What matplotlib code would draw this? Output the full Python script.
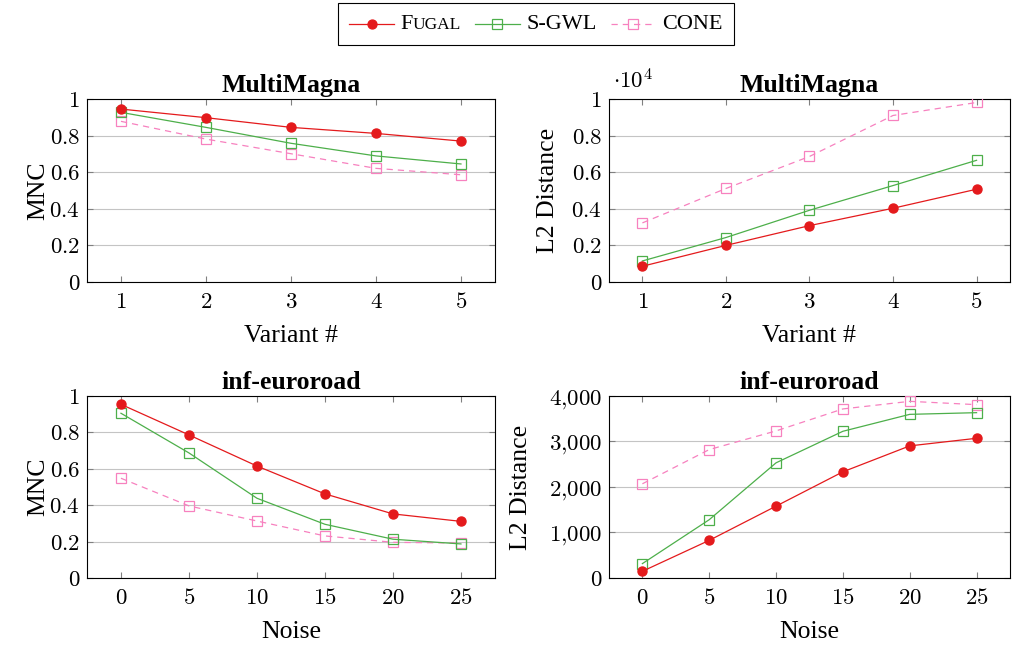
import matplotlib

matplotlib.use("Agg")
import matplotlib.pyplot as plt
from matplotlib.lines import Line2D
from matplotlib.offsetbox import AnchoredOffsetbox, DrawingArea, HPacker, TextArea
from matplotlib.ticker import FuncFormatter

# --- data ---
VARIANTS = [1, 2, 3, 4, 5]
NOISE = [0, 5, 10, 15, 20, 25]

MM_MNC_FUGAL = [0.945, 0.898, 0.845, 0.812, 0.770]
MM_MNC_SGWL = [0.927, 0.845, 0.758, 0.689, 0.645]
MM_MNC_CONE = [0.878, 0.781, 0.701, 0.621, 0.586]

MM_L2_FUGAL = [860, 2000, 3080, 4030, 5070]
MM_L2_SGWL = [1150, 2430, 3920, 5270, 6650]
MM_L2_CONE = [3230, 5110, 6860, 9100, 9810]

ER_MNC_FUGAL = [0.954, 0.786, 0.615, 0.462, 0.352, 0.311]
ER_MNC_SGWL = [0.905, 0.687, 0.438, 0.295, 0.213, 0.187]
ER_MNC_CONE = [0.548, 0.396, 0.313, 0.231, 0.196, 0.192]

ER_L2_FUGAL = [147, 827, 1579, 2333, 2903, 3070]
ER_L2_SGWL = [316, 1281, 2531, 3224, 3596, 3633]
ER_L2_CONE = [2070, 2822, 3232, 3715, 3882, 3809]

RED = "#e41a1c"
GREEN = "#4daf4a"
PINK = "#f781bf"
SERIF = ["Liberation Serif", "DejaVu Serif"]
TICK_FS = 16.5
LABEL_FS = 18.5
TITLE_FS = 18.5
LEG_FS = 16

plt.rcParams.update(
    {
        "font.family": SERIF,
        "font.size": LABEL_FS,
        "mathtext.fontset": "cm",
        "axes.linewidth": 0.8,
        "xtick.direction": "in",
        "ytick.direction": "in",
        "xtick.color": "#808080",
        "ytick.color": "#808080",
        "xtick.labelcolor": "black",
        "ytick.labelcolor": "black",
        "xtick.major.size": 4,
        "ytick.major.size": 4,
    }
)

STYLES = {
    "FUGAL": dict(color=RED, marker="o", ms=6.5, lw=0.9, mfc=RED, mec=RED, ls="-"),
    "S-GWL": dict(color=GREEN, marker="s", ms=6.5, lw=0.9, mfc="none", mew=0.9, ls="-"),
    "CONE": dict(color=PINK, marker="s", ms=6.5, lw=0.9, mfc="none", mew=0.9, ls=(0, (5, 4))),
}


def style_axes(ax, xticks, xlim, ylim, yticks):
    ax.set_xlim(*xlim)
    ax.set_ylim(*ylim)
    ax.set_xticks(xticks)
    ax.set_yticks(yticks)
    ax.tick_params(top=True, right=True, labelsize=TICK_FS)
    ax.tick_params(axis="x", pad=7)
    ax.tick_params(axis="y", pad=5)
    ax.xaxis.set_major_formatter(FuncFormatter(lambda v, p: f"${v:g}$"))
    ax.yaxis.grid(True, color="#c4c4c4", lw=0.8)
    ax.set_axisbelow(True)


def plot_three(ax, x, fugal, sgwl, cone, scale=1.0):
    ax.plot(x, [v / scale for v in cone], **STYLES["CONE"], zorder=3)
    ax.plot(x, [v / scale for v in sgwl], **STYLES["S-GWL"], zorder=4)
    ax.plot(x, [v / scale for v in fugal], **STYLES["FUGAL"], zorder=5)


dec_fmt = FuncFormatter(lambda v, p: f"${v:g}$")
comma_fmt = FuncFormatter(lambda v, p: "$" + f"{int(round(v)):,}".replace(",", "{,}") + "$")

fig = plt.figure(figsize=(10.17, 6.45), dpi=100)
ax_tl = fig.add_axes([0.0855, 0.5628, 0.4012, 0.2837])
ax_tr = fig.add_axes([0.5988, 0.5628, 0.3943, 0.2837])
ax_bl = fig.add_axes([0.0855, 0.1039, 0.4012, 0.2822])
ax_br = fig.add_axes([0.5988, 0.1039, 0.3943, 0.2822])

mnc_ticks = [0, 0.2, 0.4, 0.6, 0.8, 1.0]

plot_three(ax_tl, VARIANTS, MM_MNC_FUGAL, MM_MNC_SGWL, MM_MNC_CONE)
style_axes(ax_tl, VARIANTS, (0.6, 5.4), (0, 1), mnc_ticks)
ax_tl.yaxis.set_major_formatter(dec_fmt)
ax_tl.set_title("MultiMagna", fontweight="bold", fontsize=TITLE_FS, pad=5)
ax_tl.set_ylabel("MNC", labelpad=0)
ax_tl.set_xlabel("Variant #", labelpad=9)

plot_three(ax_tr, VARIANTS, MM_L2_FUGAL, MM_L2_SGWL, MM_L2_CONE, scale=1e4)
style_axes(ax_tr, VARIANTS, (0.6, 5.4), (0, 1), mnc_ticks)
ax_tr.yaxis.set_major_formatter(dec_fmt)
ax_tr.set_title("MultiMagna", fontweight="bold", fontsize=TITLE_FS, pad=5)
ax_tr.set_ylabel("L2 Distance", labelpad=9)
ax_tr.set_xlabel("Variant #", labelpad=9)
ax_tr.text(0.01, 1.03, r"$\cdot 10^{4}$", transform=ax_tr.transAxes, fontsize=TICK_FS,
           ha="left", va="bottom")

plot_three(ax_bl, NOISE, ER_MNC_FUGAL, ER_MNC_SGWL, ER_MNC_CONE)
style_axes(ax_bl, NOISE, (-2.5, 27.5), (0, 1), mnc_ticks)
ax_bl.yaxis.set_major_formatter(dec_fmt)
ax_bl.set_title("inf-euroroad", fontweight="bold", fontsize=TITLE_FS, pad=5)
ax_bl.set_ylabel("MNC", labelpad=0)
ax_bl.set_xlabel("Noise", labelpad=9)

plot_three(ax_br, NOISE, ER_L2_FUGAL, ER_L2_SGWL, ER_L2_CONE)
style_axes(ax_br, NOISE, (-2.5, 27.5), (0, 4000), [0, 1000, 2000, 3000, 4000])
ax_br.yaxis.set_major_formatter(comma_fmt)
ax_br.set_title("inf-euroroad", fontweight="bold", fontsize=TITLE_FS, pad=5)
ax_br.set_ylabel("L2 Distance", labelpad=12)
ax_br.set_xlabel("Noise", labelpad=9)


# legend with a small-caps style FUGAL label
def handle(key):
    da = DrawingArea(32, 10, 0, 0)
    st = dict(STYLES[key])
    marker = st.pop("marker")
    ms = st.pop("ms")
    mfc = st.pop("mfc")
    mec = st.pop("mec", st["color"])
    mew = st.pop("mew", 0.9)
    da.add_artist(Line2D([0, 32], [5, 5], **st))
    da.add_artist(Line2D([16], [5], marker=marker, ms=ms, mfc=mfc, mec=mec, mew=mew,
                         ls="none"))
    return da


def label(parts):
    areas = [TextArea(t, textprops=dict(fontsize=s, family=SERIF)) for t, s in parts]
    return HPacker(children=areas, align="baseline", pad=0, sep=0)


entries = [
    ("FUGAL", [("F", LEG_FS), ("UGAL", LEG_FS - 3.5)]),
    ("S-GWL", [("S-GWL", LEG_FS)]),
    ("CONE", [("CONE", LEG_FS)]),
]
items = []
for key, parts in entries:
    items.append(HPacker(children=[handle(key), label(parts)], align="center", pad=0, sep=5))
box = HPacker(children=items, align="center", pad=0, sep=10)
leg = AnchoredOffsetbox(loc="upper center", child=box, pad=0.45, borderpad=0,
                        frameon=True, bbox_to_anchor=(0.527, 0.995),
                        bbox_transform=fig.transFigure)
leg.patch.set_edgecolor("black")
leg.patch.set_linewidth(0.8)
leg.patch.set_boxstyle("square", pad=0)
fig.add_artist(leg)

fig.savefig("out.png", dpi=100)
